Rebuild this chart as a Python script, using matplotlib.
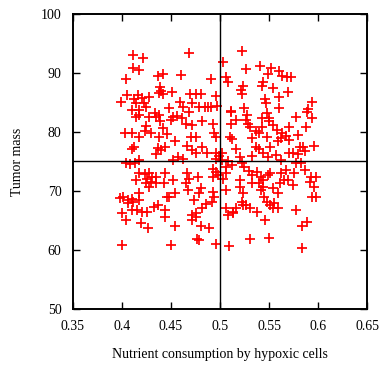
import matplotlib

matplotlib.use("Agg")
import matplotlib.pyplot as plt

# Scatter values (x: nutrient consumption, y: tumor mass)
xs = [
    0.412, 0.422, 0.469, 0.522, 0.503, 0.541,
    0.412, 0.418, 0.527, 0.552, 0.560, 0.404, 0.437, 0.442, 0.460, 0.491, 0.506, 0.508,
    0.549, 0.563, 0.568, 0.572, 0.544,
    0.523, 0.521, 0.522, 0.543, 0.554, 0.569, 0.560, 0.546, 0.439, 0.440, 0.438, 0.442,
    0.451, 0.405, 0.417, 0.421, 0.470, 0.476, 0.481, 0.496, 0.413, 0.428,
    0.399, 0.415, 0.423, 0.459, 0.472, 0.462, 0.448, 0.479, 0.485, 0.488, 0.491, 0.497,
    0.594, 0.590, 0.524, 0.511, 0.560, 0.410, 0.418, 0.425, 0.434, 0.438, 0.468, 0.589,
    0.577, 0.547, 0.548, 0.543, 0.528,
    0.435, 0.418, 0.415, 0.428, 0.456, 0.452, 0.461, 0.465, 0.450, 0.439, 0.442, 0.472,
    0.482, 0.493, 0.511, 0.516, 0.511, 0.527, 0.529, 0.531, 0.543, 0.550, 0.554, 0.558,
    0.563, 0.570, 0.579, 0.588, 0.594, 0.550, 0.537, 0.540, 0.567,
    0.403, 0.410, 0.418, 0.424, 0.425, 0.430, 0.438, 0.446, 0.454, 0.471, 0.476, 0.482,
    0.494, 0.496, 0.510, 0.512, 0.533, 0.537, 0.548, 0.551, 0.559, 0.562, 0.570, 0.581,
    0.585, 0.596, 0.413, 0.410, 0.437, 0.444, 0.466,
    0.404, 0.408, 0.414, 0.418, 0.435, 0.440, 0.457, 0.452, 0.462, 0.476, 0.472, 0.487,
    0.496, 0.499, 0.502, 0.516, 0.520, 0.533, 0.540, 0.544, 0.549, 0.557, 0.562, 0.570,
    0.574, 0.579, 0.587, 0.577, 0.583, 0.508, 0.512, 0.502, 0.506, 0.496,
    0.418, 0.415, 0.424, 0.428, 0.431, 0.435, 0.426, 0.430, 0.444, 0.452, 0.466, 0.468,
    0.478, 0.493, 0.496, 0.493, 0.498, 0.503, 0.506, 0.522, 0.524, 0.520, 0.530, 0.533,
    0.538, 0.542, 0.544, 0.549, 0.551, 0.562, 0.567, 0.569, 0.575, 0.587, 0.593, 0.598,
    0.401, 0.406, 0.410, 0.398, 0.418, 0.425, 0.428, 0.435, 0.443, 0.446, 0.448, 0.454,
    0.467, 0.465, 0.481, 0.479, 0.493, 0.494, 0.506, 0.520, 0.523, 0.533, 0.540, 0.544,
    0.542, 0.545, 0.548, 0.554, 0.559, 0.561, 0.565, 0.574, 0.592, 0.596, 0.594, 0.598,
    0.555,
    0.406, 0.411, 0.418, 0.400, 0.404, 0.410, 0.416, 0.421, 0.426, 0.433, 0.437, 0.444,
    0.444, 0.474, 0.476, 0.472, 0.482, 0.486, 0.492, 0.506, 0.513, 0.516, 0.522, 0.523,
    0.527, 0.531, 0.538, 0.551, 0.554, 0.559, 0.577, 0.508, 0.513,
    0.420, 0.427, 0.454, 0.481, 0.489, 0.472, 0.476, 0.477, 0.479, 0.546, 0.589, 0.584,
    0.450, 0.400, 0.496, 0.509, 0.531, 0.550, 0.584,
]
ys = [
    93.1, 92.5, 93.4, 93.8, 91.9, 91.2,
    90.9, 90.5, 90.6, 90.8, 90.4, 89.0, 89.5, 89.8, 89.7, 88.9, 89.4, 88.5,
    89.8, 89.5, 89.4, 89.4, 88.4,
    87.8, 87.1, 86.4, 87.8, 87.4, 86.7, 86.0, 85.6, 87.6, 87.0, 86.6, 86.4,
    86.7, 86.3, 86.3, 85.7, 86.4, 86.4, 86.4, 86.1, 85.6, 85.9,
    85.0, 84.9, 84.9, 85.1, 84.9, 84.2, 84.0, 84.2, 84.3, 84.2, 84.3, 84.4,
    85.0, 83.9, 84.0, 83.6, 84.0, 83.7, 83.7, 84.2, 83.2, 82.9, 83.3, 83.4,
    82.5, 84.9, 83.2, 82.3, 82.9,
    82.6, 82.9, 82.6, 82.6, 82.7, 82.5, 82.3, 81.4, 82.0, 81.8, 80.6, 81.2,
    81.8, 81.4, 83.4, 82.1, 81.4, 82.0, 81.4, 80.8, 80.9, 81.8, 81.2, 80.3,
    79.8, 80.9, 79.5, 80.8, 82.3, 82.3, 80.1, 79.9, 79.3,
    79.9, 79.9, 79.2, 80.2, 81.0, 79.8, 79.2, 79.7, 78.4, 79.2, 79.2, 77.5,
    79.9, 79.2, 79.2, 78.8, 78.9, 77.5, 79.2, 77.5, 78.5, 78.9, 78.6, 77.5,
    77.4, 77.6, 77.5, 77.1, 77.3, 77.5, 77.6,
    74.7, 74.6, 74.7, 75.3, 76.3, 76.9, 75.8, 75.3, 75.4, 76.4, 76.9, 76.4,
    76.4, 75.9, 75.3, 77.1, 75.8, 75.9, 77.1, 76.5, 75.8, 76.1, 75.3, 76.4,
    76.5, 76.3, 76.7, 74.7, 74.8, 75.0, 74.4, 76.4, 74.1, 75.4,
    73.0, 71.9, 72.9, 73.0, 72.4, 72.4, 72.1, 71.6, 73.0, 71.9, 73.1, 72.1,
    72.4, 73.7, 73.3, 72.4, 72.7, 72.1, 73.0, 74.7, 74.1, 71.9, 73.4, 72.7,
    73.3, 72.4, 71.9, 72.7, 73.0, 73.0, 73.6, 71.9, 73.0, 73.6, 72.4, 72.4,
    69.0, 68.5, 68.7, 68.8, 69.6, 71.3, 70.7, 71.3, 71.4, 69.0, 69.0, 69.6,
    70.2, 71.3, 70.5, 69.6, 69.9, 69.0, 70.2, 70.7, 69.6, 71.3, 71.3, 70.7,
    70.2, 69.0, 68.2, 70.5, 69.6, 71.4, 71.9, 71.0, 71.6, 70.7, 69.0, 69.0,
    67.9,
    68.0, 68.2, 68.5, 66.2, 65.1, 66.8, 66.8, 66.5, 66.5, 67.3, 67.6, 66.8,
    65.6, 68.5, 66.3, 65.9, 67.1, 67.8, 68.2, 67.1, 66.5, 67.1, 68.2, 67.6,
    67.6, 67.1, 66.5, 67.6, 67.2, 67.1, 66.8, 65.9, 66.2,
    64.5, 63.7, 64.0, 64.0, 63.7, 65.1, 65.6, 61.9, 61.7, 65.1, 64.8, 64.0,
    60.8, 60.8, 61.1, 60.6, 61.8, 62.1, 60.3,
]

x_ticks = [0.35, 0.4, 0.45, 0.5, 0.55, 0.6, 0.65]
x_labels = ["0.35", "0.4", "0.45", "0.5", "0.55", "0.6", "0.65"]
y_ticks = [50, 60, 70, 80, 90, 100]
x_center = 0.5
y_center = 75

plt.rcParams["font.family"] = ["Liberation Serif", "DejaVu Serif"]

fig = plt.figure(figsize=(3.82, 3.67), dpi=100)
ax = fig.add_axes((0.190, 0.158, 0.7715, 0.804))

ax.plot(xs, ys, ls="none", marker="+", color="#ff0000", ms=7.8, mew=1.25)
ax.axvline(x_center, color="black", lw=1.0)
ax.axhline(y_center, color="black", lw=1.0)

ax.set_xlim(0.35, 0.65)
ax.set_ylim(50, 100)
ax.set_xticks(x_ticks)
ax.set_xticklabels(x_labels)
ax.set_yticks(y_ticks)
ax.tick_params(direction="in", length=5, width=1.0, top=True, right=True,
               labelsize=10, pad=8, colors="black")
for spine in ax.spines.values():
    spine.set_linewidth(1.4)

ax.set_xlabel("Nutrient consumption by hypoxic cells", fontsize=10, labelpad=11)
ax.set_ylabel("Tumor mass", fontsize=10, labelpad=12)

fig.savefig("out.png", dpi=100)
